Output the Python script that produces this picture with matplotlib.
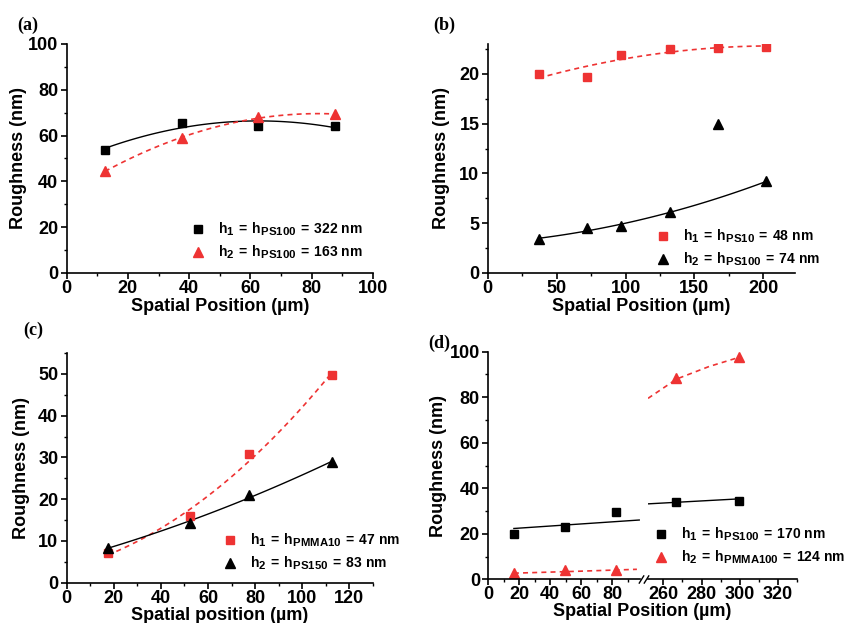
import numpy as np
import matplotlib
matplotlib.use("Agg")
import matplotlib.pyplot as plt
import matplotlib._mathtext as mathtext_internals
from matplotlib.ticker import MultipleLocator

plt.rcParams['font.family'] = ['Liberation Sans', 'DejaVu Sans']
plt.rcParams['font.weight'] = 'bold'
plt.rcParams['axes.labelweight'] = 'bold'
plt.rcParams['mathtext.fontset'] = 'custom'
plt.rcParams['mathtext.rm'] = 'Liberation Sans:bold'
plt.rcParams['mathtext.it'] = 'Liberation Sans:bold'
plt.rcParams['mathtext.bf'] = 'Liberation Sans:bold'
# subscripts in the legends are nearly full size in the original
mathtext_internals.SHRINK_FACTOR = 0.82

RED = '#ee3333'

# (a) PS100 / PS100
a_x = [12.5, 37.5, 62.5, 87.5]
a_h1 = [53.7, 65.6, 64.2, 64.2]
a_h2 = [44.5, 58.8, 68.0, 69.3]
a_labels = [r'$\mathrm{h_1\:{=}\:h_{PS100}\:{=}\:322\ nm}$', r'$\mathrm{h_2\:{=}\:h_{PS100}\:{=}\:163\ nm}$']

# (b) PS10 / PS100
b_x = [37, 72, 97, 132, 167, 202]
b_h1 = [20.0, 19.7, 21.9, 22.5, 22.6, 22.7]
b_h2 = [3.4, 4.5, 4.7, 6.1, 15.0, 9.2]
b_h2_skip = 4  # outlier left out of the fit
b_labels = [r'$\mathrm{h_1\:{=}\:h_{PS10}\:{=}\:48\ nm}$', r'$\mathrm{h_2\:{=}\:h_{PS100}\:{=}\:74\ nm}$']

# (c) PMMA10 / PS150
c_x = [17.5, 52.5, 77.5, 112.5]
c_h1 = [7.1, 15.9, 30.9, 49.8]
c_h2 = [8.4, 14.3, 20.9, 28.9]
c_labels = [r'$\mathrm{h_1\:{=}\:h_{PMMA10}\:{=}\:47\ nm}$', r'$\mathrm{h_2\:{=}\:h_{PS150}\:{=}\:83\ nm}$']

# (d) PS100 / PMMA100, broken x axis
d_x = [16.5, 49.5, 82.5, 266.5, 299.5]
d_h1 = [19.9, 23.1, 29.4, 33.8, 34.5]
d_h2 = [2.9, 3.9, 3.9, 88.3, 97.8]
# dashed guide for h2 in (d)
d_guide_x_left = [16.5, 56, 96]
d_guide_y_left = [2.7, 3.5, 4.4]
d_guide_x_right = [252, 267, 284, 300]
d_guide_y_right = [79.5, 88.0, 93.5, 97.6]
d_labels = [r'$\mathrm{h_1\:{=}\:h_{PS100}\:{=}\:170\ nm}$', r'$\mathrm{h_2\:{=}\:h_{PMMA100}\:{=}\:124\ nm}$']


def quad_fit(x, y, x0, x1, deg=2):
    coef = np.polyfit(x, y, deg)
    xs = np.linspace(x0, x1, 120)
    return xs, np.polyval(coef, xs)


def style_axes(ax, xmaj, ymaj, left=True):
    ax.spines['top'].set_visible(False)
    ax.spines['right'].set_visible(False)
    ax.spines['left'].set_visible(left)
    for s in ['left', 'bottom']:
        ax.spines[s].set_linewidth(1.2)
    ax.xaxis.set_major_locator(MultipleLocator(xmaj))
    ax.xaxis.set_minor_locator(MultipleLocator(xmaj / 2))
    ax.yaxis.set_major_locator(MultipleLocator(ymaj))
    ax.yaxis.set_minor_locator(MultipleLocator(ymaj / 2))
    ax.tick_params(which='major', direction='out', length=4, width=1.2, labelsize=13, pad=2)
    ax.tick_params(which='minor', direction='out', length=2.5, width=1)
    ax.tick_params(axis='x', pad=1)
    if not left:
        ax.tick_params(axis='y', which='both', left=False, labelleft=False)


def add_legend(ax, handles, labels, anchor):
    ax.legend(handles, labels, loc='center left', bbox_to_anchor=anchor, frameon=False,
              fontsize=10, handlelength=1.0, handletextpad=0.95, borderpad=0,
              borderaxespad=0, labelspacing=0.4)


fig = plt.figure(figsize=(8.45, 6.23), dpi=100)

# ---- (a)
ax = fig.add_axes([0.0789, 0.5618, 0.3625, 0.3676])
xs, ys = quad_fit(a_x, a_h1, a_x[0], a_x[-1])
ax.plot(xs, ys, color='black', lw=1)
xs, ys = quad_fit(a_x, a_h2, a_x[0], a_x[-1])
ax.plot(xs, ys, color=RED, lw=1.2, ls=(0, (3, 2.5)))
m1, = ax.plot(a_x, a_h1, 's', color='black', ms=6)
m2, = ax.plot(a_x, a_h2, '^', color=RED, ms=7)
ax.set_xlim(0, 100)
ax.set_ylim(0, 100)
style_axes(ax, 20, 20)
ax.set_xlabel('Spatial Position (µm)', fontsize=13, labelpad=0.5)
ax.set_ylabel('Roughness (nm)', fontsize=13, labelpad=0.5)
add_legend(ax, [m1, m2], a_labels, (0.405, 0.14))

# ---- (b)
ax = fig.add_axes([0.5772, 0.5618, 0.3636, 0.3676])
xs, ys = quad_fit(b_x, b_h1, b_x[0], b_x[-1])
ax.plot(xs, ys, color=RED, lw=1.2, ls=(0, (3, 2.5)))
fit_x = [v for i, v in enumerate(b_x) if i != b_h2_skip]
fit_y = [v for i, v in enumerate(b_h2) if i != b_h2_skip]
xs, ys = quad_fit(fit_x, fit_y, b_x[0], b_x[-1])
ax.plot(xs, ys, color='black', lw=1)
m1, = ax.plot(b_x, b_h1, 's', color=RED, ms=6)
m2, = ax.plot(b_x, b_h2, '^', color='black', ms=7)
ax.set_xlim(0, 223)
ax.set_ylim(0, 23)
style_axes(ax, 50, 5)
ax.set_xlabel('Spatial Position (µm)', fontsize=13, labelpad=0.5)
ax.set_ylabel('Roughness (nm)', fontsize=13, labelpad=6.5)
add_legend(ax, [m1, m2], b_labels, (0.549, 0.108))

# ---- (c)
ax = fig.add_axes([0.0789, 0.0647, 0.3625, 0.3687])
xs, ys = quad_fit(c_x, c_h1, c_x[0], c_x[-1])
ax.plot(xs, ys, color=RED, lw=1.2, ls=(0, (3, 2.5)))
xs, ys = quad_fit(c_x, c_h2, c_x[0], c_x[-1])
ax.plot(xs, ys, color='black', lw=1)
m1, = ax.plot(c_x, c_h1, 's', color=RED, ms=6)
m2, = ax.plot(c_x, c_h2, '^', color='black', ms=7)
ax.set_xlim(0, 130)
ax.set_ylim(0, 55)
style_axes(ax, 20, 10)
ax.set_xlabel('Spatial position (µm)', fontsize=13, labelpad=0)
ax.set_ylabel('Roughness (nm)', fontsize=13, labelpad=5.7)
add_legend(ax, [m1, m2], c_labels, (0.510, 0.134))

# ---- (d) two pieces of a broken x axis
ax_l = fig.add_axes([0.5779, 0.0701, 0.1795, 0.3654])
ax_r = fig.add_axes([0.7669, 0.0701, 0.1763, 0.3654])
coef = np.polyfit(d_x, d_h1, 1)
for a, lo, hi in [(ax_l, d_x[0], 97.5), (ax_r, 252, d_x[-1])]:
    xs = np.linspace(lo, hi, 50)
    a.plot(xs, np.polyval(coef, xs), color='black', lw=1)
ax_l.plot(d_guide_x_left, d_guide_y_left, color=RED, lw=1.2, ls=(0, (3, 2.5)))
ax_r.plot(d_guide_x_right, d_guide_y_right, color=RED, lw=1.2, ls=(0, (3, 2.5)))
for a in (ax_l, ax_r):
    m1, = a.plot(d_x, d_h1, 's', color='black', ms=6)
    m2, = a.plot(d_x, d_h2, '^', color=RED, ms=7)
    a.set_ylim(0, 100)
ax_l.set_xlim(0, 98)
ax_r.set_xlim(252, 330)
style_axes(ax_l, 20, 20)
style_axes(ax_r, 20, 20, left=False)
ax_l.set_ylabel('Roughness (nm)', fontsize=13, labelpad=2)
ax_l.set_xlabel('Spatial Position (µm)', fontsize=13, labelpad=0, x=1.016)
brk = dict(marker=[(-1, -1.6), (1, 1.6)], markersize=6, linestyle='none',
           color='black', mec='black', mew=1, clip_on=False, transform=ax_r.transAxes)
ax_r.plot([-0.047, -0.013], [0, 0], **brk)
add_legend(ax_r, [m1, m2], d_labels, (0.04, 0.148))

# panel letters
for label, x, y in [('(a)', 17, 25.5), ('(b)', 433, 25.5), ('(c)', 23, 330), ('(d)', 428, 343)]:
    fig.text(x / 845, 1 - y / 623, label, fontsize=13, fontweight='bold',
             family=['Liberation Serif', 'DejaVu Serif'], ha='left', va='center')

fig.savefig('out.png', dpi=100)
